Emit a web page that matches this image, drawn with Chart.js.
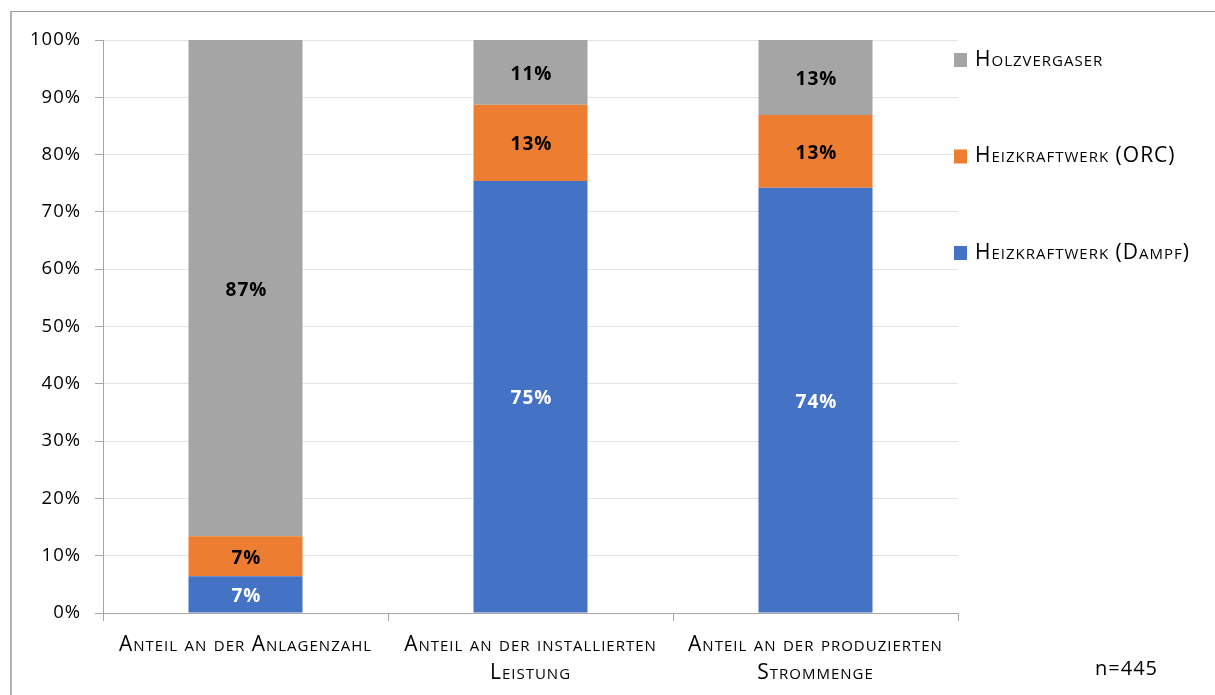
<!DOCTYPE html>
<html>
<head>
<meta charset="utf-8">
<script src="https://cdn.jsdelivr.net/npm/chart.js@4/dist/chart.umd.min.js"></script>
<style>
    body { margin: 0; background: #fff; }
    #wrap { position: relative; width: 1215px; height: 695px; overflow: hidden; }
    #frame {
        position: absolute; left: 10px; top: 11px; width: 1300px; height: 800px;
        border-top: 1px solid #9a9a9a; border-left: 2px solid #b4b4b4;
    }
    #myChart { position: absolute; left: 0; top: 0; }
</style>
</head>
<body>
<div id="wrap">
    <div id="frame"></div>
    <canvas id="myChart" width="1215" height="695"></canvas>
</div>
<script>
const categories = [
    'Anteil an der Anlagenzahl',
    ['Anteil an der installierten', 'Leistung'],
    ['Anteil an der produzierten', 'Strommenge']
];
const dampf = [6.4, 75.4, 74.2];
const orc = [7.0, 13.3, 12.7];
const holz = [86.6, 11.3, 13.1];
const shownLabels = [
    ['7%', '75%', '74%'],
    ['7%', '13%', '13%'],
    ['87%', '11%', '13%']
];
const yTicks = [0, 10, 20, 30, 40, 50, 60, 70, 80, 90, 100];

const fontFamily = "'Open Sans', 'Noto Sans', sans-serif";

// a bit of tracking everywhere, the original font runs wider
const spacing = {
    id: 'spacing',
    beforeDraw(chart) {
        chart.ctx.letterSpacing = '1px';
    }
};

// draws the percentages inside the bars
const barLabels = {
    id: 'barLabels',
    afterDatasetsDraw(chart) {
        const ctx = chart.ctx;
        ctx.save();
        ctx.font = 'bold 19px ' + fontFamily;
        ctx.letterSpacing = '1px';
        ctx.textAlign = 'center';
        ctx.textBaseline = 'middle';
        chart.data.datasets.forEach((ds, i) => {
            const meta = chart.getDatasetMeta(i);
            meta.data.forEach((bar, j) => {
                ctx.fillStyle = i === 0 ? '#ffffff' : '#000000';
                ctx.fillText(shownLabels[i][j], bar.x + 1, (bar.y + bar.base) / 2 + 2);
            });
        });
        ctx.restore();
    }
};

// legend on the right, reversed order, wide spacing
const sideLegend = {
    id: 'sideLegend',
    afterDraw(chart) {
        const ctx = chart.ctx;
        const items = chart.data.datasets.slice().reverse();
        ctx.save();
        ctx.font = 'small-caps 21px ' + fontFamily;
        ctx.letterSpacing = '1px';
        ctx.textBaseline = 'middle';
        ctx.textAlign = 'left';
        items.forEach((ds, k) => {
            const cy = 60 + k * 96.5;
            ctx.fillStyle = ds.backgroundColor;
            ctx.fillRect(954, cy - 7, 13, 14);
            ctx.fillStyle = '#000000';
            ctx.fillText(ds.label, 975, cy);
        });
        ctx.font = '20px ' + fontFamily;
        ctx.fillText('n=445', 1095, 669);
        ctx.restore();
    }
};

const ctx = document.getElementById('myChart');
const myChart = new Chart(ctx, {
    type: 'bar',
    data: {
        labels: categories,
        datasets: [
            { label: 'Heizkraftwerk (Dampf)', data: dampf, backgroundColor: '#4472C4' },
            { label: 'Heizkraftwerk (ORC)', data: orc, backgroundColor: '#ED7D31' },
            { label: 'Holzvergaser', data: holz, backgroundColor: '#A5A5A5' }
        ]
    },
    options: {
        responsive: false,
        animation: false,
        layout: { padding: { left: 0, top: 40, right: 257, bottom: 0 } },
        datasets: {
            bar: { categoryPercentage: 1, barPercentage: 0.4, borderWidth: 0 }
        },
        scales: {
            x: {
                stacked: true,
                grid: { drawOnChartArea: false, drawTicks: true, tickLength: 8, color: '#a6a6a6', offset: true },
                border: { color: '#a6a6a6', width: 1 },
                ticks: {
                    color: '#000000',
                    padding: 10,
                    maxRotation: 0,
                    // weight slot carries the small-caps variant into the font string
                    font: { family: fontFamily, size: 21, weight: 'small-caps 400', lineHeight: 1.33 }
                },
                afterFit(scale) { scale.height = 82; }
            },
            y: {
                stacked: true,
                min: 0,
                max: 100,
                afterBuildTicks(scale) { scale.ticks = yTicks.map(v => ({ value: v })); },
                grid: { color: '#e4e4e4', tickLength: 8, tickColor: '#a6a6a6' },
                border: { color: '#a6a6a6', width: 1 },
                ticks: {
                    color: '#000000',
                    padding: 14,
                    font: { family: fontFamily, size: 18.5 },
                    callback: v => v + '%'
                },
                afterFit(scale) { scale.width = 103; }
            }
        },
        plugins: {
            legend: { display: false },
            tooltip: { enabled: false }
        }
    },
    plugins: [spacing, barLabels, sideLegend]
});
</script>
</body>
</html>
